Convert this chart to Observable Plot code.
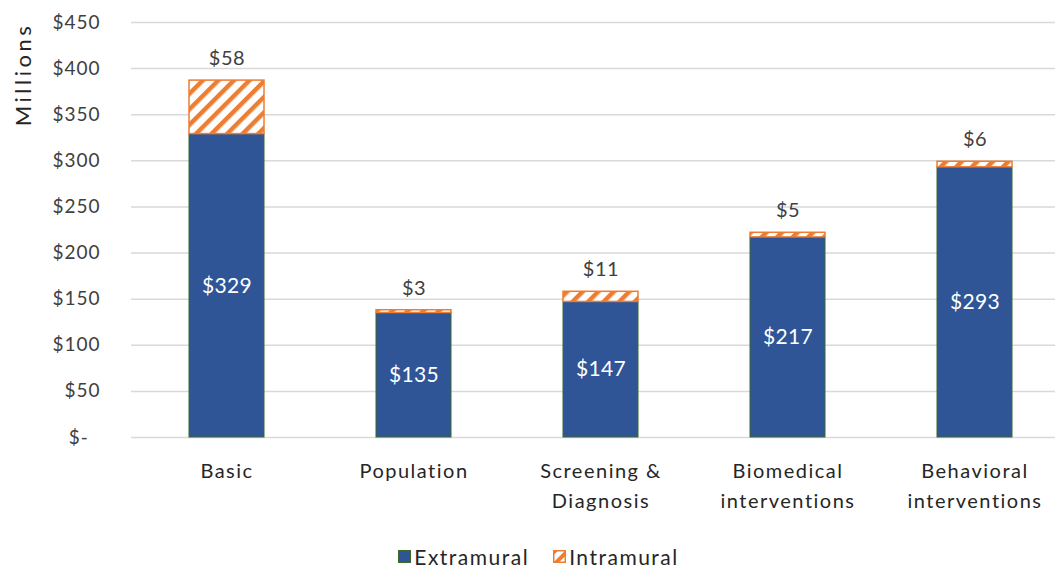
<!DOCTYPE html>
<html>
<head>
<meta charset="utf-8">
<script src="https://cdn.jsdelivr.net/npm/d3@7"></script>
<script src="https://cdn.jsdelivr.net/npm/@observablehq/plot@0.6"></script>
<style>
  html, body { margin: 0; padding: 0; background: #fff; overflow: hidden; }
  body { width: 1055px; height: 568px; font-family: Lato, "Open Sans", sans-serif; }
  #legend { display: flex; justify-content: center; align-items: center; height: 43px; font-size: 21px; letter-spacing: 1.5px; color: #262626; margin-left: 22px; margin-top: 10px; }
  .item { display: flex; align-items: center; margin: 0 12px; }
  .item svg { margin-right: 3px; }
</style>
</head>
<body>
<div id="chart"></div>
<div id="legend"></div>
<script>
const categories = ["Basic", "Population", "Screening & Diagnosis", "Biomedical interventions", "Behavioral interventions"];
const categoryLabels = ["Basic", "Population", "Screening &\nDiagnosis", "Biomedical\ninterventions", "Behavioral\ninterventions"];
const extramural = [329, 135, 147, 217, 293];
const intramural = [58, 3, 11, 5, 6];
const yTicks = [0, 50, 100, 150, 200, 250, 300, 350, 400, 450];

const blue = "#2F5597";
const orange = "#ED7D31";

const rows = categories.map((c, i) => ({
  category: c,
  label: categoryLabels[i],
  ext: extramural[i],
  intr: intramural[i],
  total: extramural[i] + intramural[i]
}));

const H = 525;
const chart = Plot.plot({
  width: 1055,
  height: H,
  marginTop: 22,
  marginBottom: H - 437,
  marginLeft: 131,
  marginRight: 0,
  style: { fontFamily: "Lato, 'Open Sans', sans-serif", fontSize: "19px", color: "#404040", background: "#fff" },
  x: { domain: categories, range: [131, 1070], paddingInner: 0.6, paddingOuter: 0.3, axis: null },
  y: { domain: [0, 450], ticks: yTicks, label: null, axis: null },
  marks: [
    Plot.ruleY(yTicks, { stroke: "#d9d9d9", strokeWidth: 1.5 }),
    Plot.axisY({ ticks: yTicks, tickSize: 0, tickPadding: 31, label: null, fontSize: 19,
      tickFormat: d => d === 0 ? "$-\u00a0\u00a0" : "$" + d }),
    Plot.barY(rows, { x: "category", y1: 0, y2: "ext", fill: blue, stroke: "#3b6b2e", strokeWidth: 1 }),
    Plot.barY(rows, { x: "category", y1: "ext", y2: "total", fill: "url(#hatch)", stroke: orange, strokeWidth: 1.5 }),
    Plot.text(rows, { x: "category", y: d => d.ext / 2, text: d => "$" + d.ext, fill: "white", fontSize: 21 }),
    Plot.text(rows, { x: "category", y: "total", text: d => "$" + d.intr, dy: -22, fill: "#404040", fontSize: 20 }),
    Plot.text(rows, { x: "category", y: 0, text: "label", dy: 19, lineAnchor: "top", lineHeight: 1.5, fontSize: 20, fill: "#262626" }),
    Plot.text(["Millions"], { frameAnchor: "top-left", text: d => d, rotate: -90, textAnchor: "middle", lineAnchor: "middle",
      dx: 23 - 131, dy: 74 - 22, fontSize: 22, fill: "#262626" })
  ]
});

const svg = d3.select(chart);
// letter spacing (Calibri-like wide rendering)
const textGroups = svg.selectAll('g[aria-label="text"]').nodes();
const spacing = [0.3, 0.5, 1.5, 3.5];
textGroups.forEach((g, i) => d3.select(g).attr("letter-spacing", spacing[i] + "px"));
svg.selectAll('g[aria-label="y-axis tick label"]').attr("letter-spacing", "1px");

// hatch pattern
const defs = svg.insert("defs", ":first-child");
const pat = defs.append("pattern").attr("id", "hatch").attr("patternUnits", "userSpaceOnUse")
  .attr("width", 11).attr("height", 11).attr("patternTransform", "rotate(45)");
pat.append("rect").attr("width", 11).attr("height", 11).attr("fill", "white");
pat.append("rect").attr("width", 4.5).attr("height", 11).attr("fill", orange);

document.getElementById("chart").appendChild(chart);

// legend
const legend = d3.select("#legend");
const i1 = legend.append("div").attr("class", "item");
const s1 = i1.append("svg").attr("width", 13).attr("height", 13);
s1.append("rect").attr("x", 0.5).attr("y", 0.5).attr("width", 12).attr("height", 12).attr("fill", blue).attr("stroke", "#3b6b2e");
i1.append("span").text("Extramural");
const i2 = legend.append("div").attr("class", "item");
const s2 = i2.append("svg").attr("width", 13).attr("height", 13);
const d2 = s2.append("defs").append("pattern").attr("id", "hatchL").attr("patternUnits", "userSpaceOnUse")
  .attr("width", 9).attr("height", 9).attr("patternTransform", "rotate(45)");
d2.append("rect").attr("width", 9).attr("height", 9).attr("fill", "white");
d2.append("rect").attr("width", 4).attr("height", 9).attr("fill", orange);
s2.append("rect").attr("x", 0.75).attr("y", 0.75).attr("width", 11.5).attr("height", 11.5).attr("fill", "url(#hatchL)").attr("stroke", orange).attr("stroke-width", 1.5);
i2.append("span").text("Intramural");
</script>
</body>
</html>
